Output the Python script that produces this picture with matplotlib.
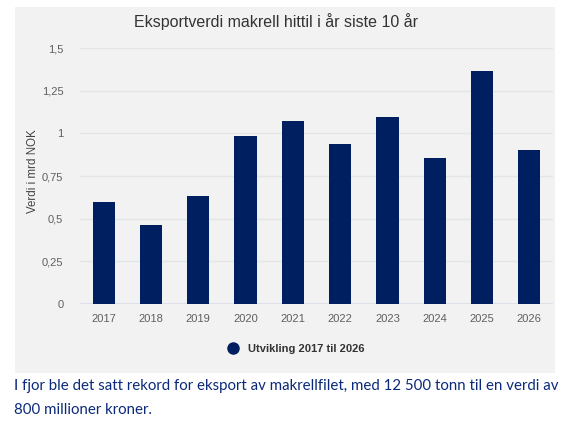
import matplotlib.pyplot as plt
from matplotlib.lines import Line2D

plt.rcParams['font.family'] = ['Liberation Sans', 'DejaVu Sans']

# Data
years = ['2017', '2018', '2019', '2020', '2021', '2022', '2023', '2024', '2025', '2026']
values = [0.60, 0.465, 0.63, 0.985, 1.075, 0.935, 1.097, 0.855, 1.365, 0.90]
yticks = [0, 0.25, 0.5, 0.75, 1, 1.25, 1.5]
ytick_labels = ['0', '0,25', '0,5', '0,75', '1', '1,25', '1,5']

W, H = 576, 422
navy = '#001f60'
grey_txt = '#5f5f5f'

fig = plt.figure(figsize=(W / 100, H / 100), dpi=100)
fig.patch.set_facecolor('white')

# grey chart panel
bg = fig.add_axes([15 / W, 1 - 373 / H, 540 / W, 366 / H], zorder=-1)
bg.set_facecolor('#f1f2f1')
bg.set_xticks([])
bg.set_yticks([])
for s in bg.spines.values():
    s.set_visible(False)

ax = fig.add_axes([80 / W, 1 - 304 / H, 473 / W, 256 / H], zorder=1)
ax.set_facecolor('none')

ax.bar(range(len(years)), values, width=0.47, color=navy, zorder=3)

ax.set_xlim(-0.5, len(years) - 0.5)
ax.set_ylim(0, 1.5)
ax.set_yticks(yticks)
ax.set_yticklabels(ytick_labels)
ax.set_xticks(range(len(years)))
ax.set_xticklabels(years)
ax.tick_params(axis='both', length=0, labelsize=8, labelcolor=grey_txt)
ax.tick_params(axis='y', pad=12)
ax.tick_params(axis='x', pad=7)
ax.grid(axis='y', color='#e4e5e7', linewidth=1, zorder=0)
ax.axhline(0, color='#dde1ea', linewidth=1.5, zorder=2)
for s in ax.spines.values():
    s.set_visible(False)

ax.set_ylabel('Verdi i mrd NOK', fontsize=8.3, color='#444444')
ax.yaxis.set_label_coords(-41 / 473, 0.52)

fig.text(276 / W, 1 - 22 / H, 'Eksportverdi makrell hittil i år siste 10 år',
         ha='center', va='center', fontsize=11.5, color='#333333')

handle = Line2D([], [], marker='o', linestyle='none', markersize=8, color=navy)
leg = fig.legend([handle], ['Utvikling 2017 til 2026'], loc='center',
                 bbox_to_anchor=(293 / W, 1 - 349 / H), frameon=False,
                 handletextpad=0.3, prop={'weight': 'bold', 'size': 8})
for t in leg.get_texts():
    t.set_color('#333333')

cap_color = '#0b2a7a'
fig.text(14 / W, 1 - 386 / H,
         'I fjor ble det satt rekord for eksport av makrellfilet, med 12 500 tonn til en verdi av',
         ha='left', va='center', fontsize=10.8, color=cap_color, family='Lato')
fig.text(14 / W, 1 - 410 / H, '800 millioner kroner.',
         ha='left', va='center', fontsize=10.8, color=cap_color, family='Lato')

fig.savefig('out.png', dpi=100)
